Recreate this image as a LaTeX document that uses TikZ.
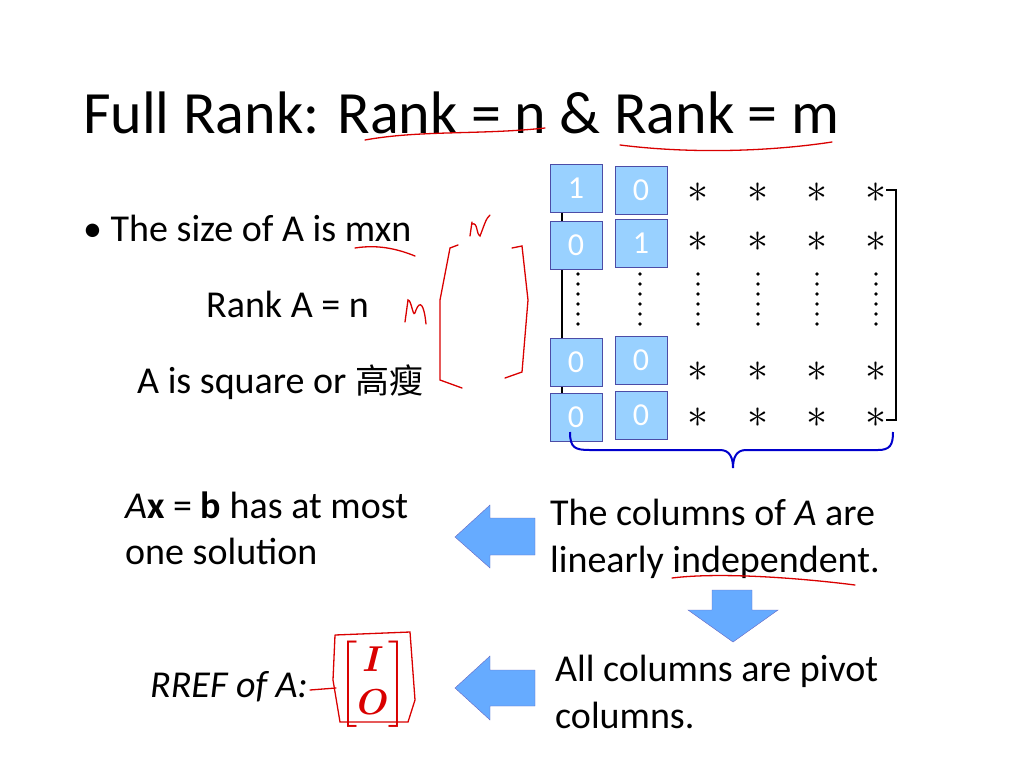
\documentclass[tikz,border=0pt]{standalone}
\usepackage{fontspec}
\setmainfont{Carlito}
\newfontfamily\cjk{Noto Sans CJK TC}
\usepackage{amsmath}
\begin{document}
\begin{tikzpicture}[x=1pt,y=-1pt,
  txt/.style={anchor=base west,inner sep=0pt,font=\fontsize{38}{44}\selectfont},
  bbox/.style={draw=blue!50!black!70,fill=blue!45!cyan!40!white,minimum width=52pt,minimum height=48pt,text=white,font=\fontsize{32}{36}\selectfont},
  barrow/.style={fill=blue!55!cyan!60!white,draw=blue!60!black!60},
  red/.style={draw=red!85!black,line width=1.3pt,line cap=round}]
\useasboundingbox (0,0) rectangle (1024,768);
\node[txt,font=\fontsize{60}{66}\selectfont] (title) at (83,133) {Full Rank: Rank = n \& Rank = m};
\node[txt] (b1) at (83,241) {\textbullet\ The size of A is mxn};
\node[txt] (r) at (206,317) {Rank A = n};
\node[txt] (sq) at (137,393) {A is square or {\cjk\fontsize{34}{40}\selectfont 高瘦}};
\draw[line width=2pt] (562,190) -- (562,418);
\draw[line width=2pt] (886,190) -- (896,190) -- (896,420) -- (886,420);
% boxes
\node[bbox] (m11) at (576,188) {1};
\node[bbox] (m12) at (641,190) {0};
\node[bbox] (m21) at (576,245) {0};
\node[bbox] (m22) at (641,243) {1};
\node[bbox] (m41) at (576,362) {0};
\node[bbox] (m42) at (641,360) {0};
\node[bbox] (m51) at (576,417) {0};
\node[bbox] (m52) at (641,415) {0};
\foreach \x in {698,758,817,876}{
  \foreach \y in {193,242,372,418}{\node at (\x,\y) {\scalebox{4.2}{$*$}};}
}
\foreach \x in {578,640,698,758,817,876}{
  \foreach \y in {274,284,294,304,314,324}{\fill (\x,\y) circle (1.8pt);}
}
% brace
\draw[draw=blue!80!black,line width=2pt] (570,432) .. controls (570,448) and (575,450) .. (590,450) -- (720,450) .. controls (730,450) and (733,458) .. (733,468) .. controls (733,458) and (736,450) .. (746,450) -- (878,450) .. controls (890,450) and (893,445) .. (893,432);
\node[txt] (ax) at (125,518) {\textit{A}\textbf{x} = \textbf{b} has at most};
\node[txt] (ax2) at (125,564) {one solution};
\node[txt] (col) at (550,525) {The columns of \textit{A} are};
\node[txt] (col2) at (550,572) {linearly independent.};
\node[txt] (piv) at (555,681) {All columns are pivot};
\node[txt] (piv2) at (555,728) {columns.};
\node[txt] (rref) at (150,697) {\textit{RREF of A:}};
\node[anchor=center,text=red!85!black] (io) at (373,684) {\scalebox{3.6}{$\begin{bmatrix}\boldsymbol{I}\\ \boldsymbol{O}\end{bmatrix}$}};
% arrows
\draw[barrow] (535,518) -- (490,518) -- (490,505) -- (455,537) -- (490,568) -- (490,555) -- (535,555) -- cycle;
\draw[barrow] (535,670) -- (490,670) -- (490,656) -- (455,688) -- (490,720) -- (490,706) -- (535,706) -- cycle;
\draw[barrow] (712,590) -- (752,590) -- (752,610) -- (778,610) -- (733,642) -- (688,610) -- (712,610) -- cycle;
% red handwriting
\draw[red] (365,140) .. controls (420,130) and (480,135) .. (545,128);
\draw[red] (620,145) .. controls (700,155) and (780,150) .. (832,142);
\draw[red] (355,248) .. controls (380,244) and (400,250) .. (415,256);
\draw[red] (472,222) -- (470,236) (472,224) .. controls (478,222) and (476,234) .. (480,236) .. controls (484,226) and (486,218) .. (490,215);
\draw[red] (405,322) -- (408,300) .. controls (412,300) and (413,322) .. (416,310) .. controls (420,300) and (424,304) .. (426,324);
\draw[red] (458,245) -- (450,248) -- (440,300) -- (440,380) -- (462,388);
\draw[red] (512,248) -- (522,246) -- (528,300) -- (522,372) -- (505,378);
\draw[red] (672,578) .. controls (720,572) and (800,578) .. (855,585);
\draw[red] (335,635) -- (410,632) -- (415,700) -- (408,722) -- (340,722) -- (333,680) -- (335,635);
\draw[red] (310,690) -- (336,688);
\end{tikzpicture}
\end{document}
